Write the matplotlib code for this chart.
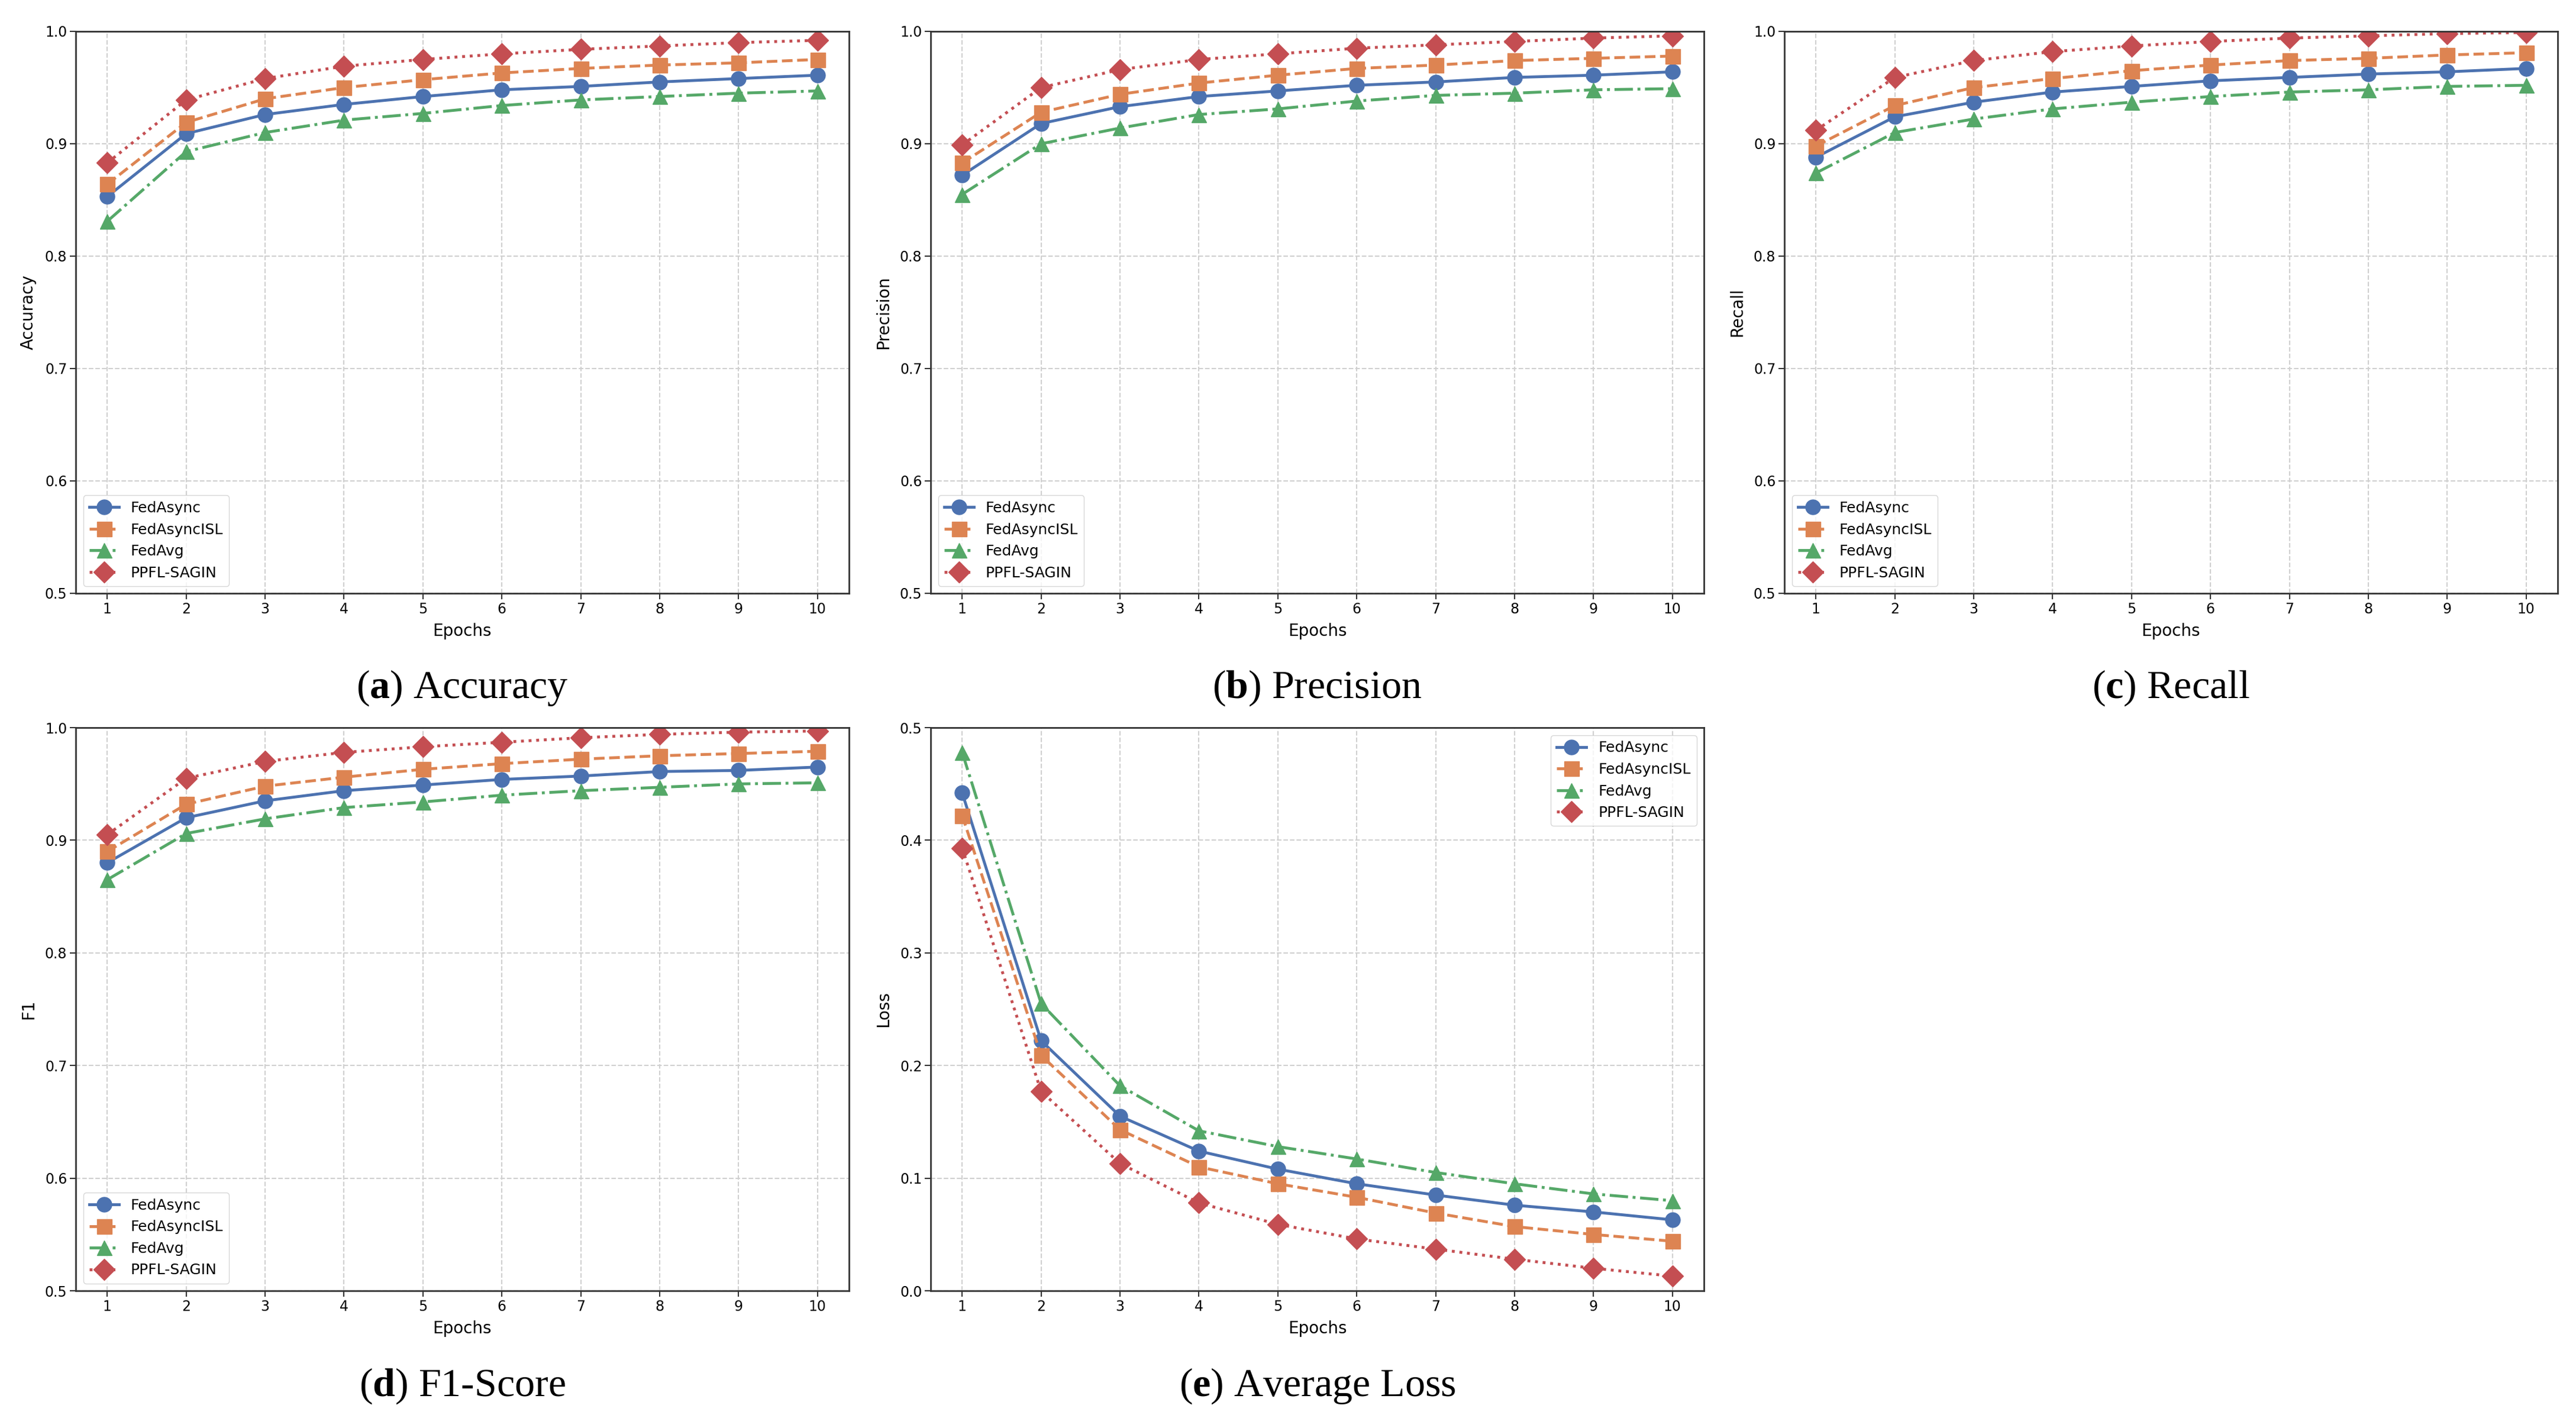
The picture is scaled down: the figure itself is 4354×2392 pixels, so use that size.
import numpy as np
import matplotlib
matplotlib.use("Agg")
from matplotlib import pyplot as plt

plt.rcParams['font.family'] = ['DejaVu Sans']
plt.rcParams['mathtext.fontset'] = 'custom'
plt.rcParams['mathtext.rm'] = 'Liberation Serif'
plt.rcParams['mathtext.bf'] = 'Liberation Serif:bold'

epochs = [1, 2, 3, 4, 5, 6, 7, 8, 9, 10]
methods = ["FedAsync", "FedAsyncISL", "FedAvg", "PPFL-SAGIN"]

acc_fedasync = [0.853, 0.909, 0.926, 0.935, 0.942, 0.948, 0.951, 0.955, 0.958, 0.961]
acc_isl      = [0.864, 0.919, 0.940, 0.950, 0.957, 0.963, 0.967, 0.970, 0.972, 0.975]
acc_fedavg   = [0.831, 0.893, 0.910, 0.921, 0.927, 0.934, 0.939, 0.942, 0.945, 0.947]
acc_ppfl     = [0.883, 0.939, 0.958, 0.969, 0.975, 0.980, 0.984, 0.987, 0.990, 0.992]

prec_fedasync = [0.872, 0.918, 0.933, 0.942, 0.947, 0.952, 0.955, 0.959, 0.961, 0.964]
prec_isl      = [0.883, 0.928, 0.944, 0.954, 0.961, 0.967, 0.970, 0.974, 0.976, 0.978]
prec_fedavg   = [0.855, 0.900, 0.914, 0.926, 0.931, 0.938, 0.943, 0.945, 0.948, 0.949]
prec_ppfl     = [0.899, 0.950, 0.966, 0.975, 0.980, 0.985, 0.988, 0.991, 0.994, 0.996]

rec_fedasync = [0.888, 0.924, 0.937, 0.946, 0.951, 0.956, 0.959, 0.962, 0.964, 0.967]
rec_isl      = [0.898, 0.934, 0.950, 0.958, 0.965, 0.970, 0.974, 0.976, 0.979, 0.981]
rec_fedavg   = [0.874, 0.910, 0.922, 0.931, 0.937, 0.942, 0.946, 0.948, 0.951, 0.952]
rec_ppfl     = [0.912, 0.959, 0.974, 0.982, 0.987, 0.991, 0.994, 0.996, 0.998, 0.999]

f1_fedasync = [0.880, 0.920, 0.935, 0.944, 0.949, 0.954, 0.957, 0.961, 0.962, 0.965]
f1_isl      = [0.890, 0.932, 0.948, 0.956, 0.963, 0.968, 0.972, 0.975, 0.977, 0.979]
f1_fedavg   = [0.865, 0.906, 0.919, 0.929, 0.934, 0.940, 0.944, 0.947, 0.950, 0.951]
f1_ppfl     = [0.905, 0.955, 0.970, 0.978, 0.983, 0.987, 0.991, 0.994, 0.996, 0.997]

loss_fedasync = [0.442, 0.222, 0.155, 0.124, 0.108, 0.095, 0.085, 0.076, 0.070, 0.063]
loss_isl      = [0.422, 0.209, 0.143, 0.110, 0.095, 0.083, 0.069, 0.057, 0.050, 0.044]
loss_fedavg   = [0.478, 0.255, 0.182, 0.142, 0.128, 0.117, 0.105, 0.095, 0.086, 0.080]
loss_ppfl     = [0.393, 0.177, 0.113, 0.078, 0.059, 0.046, 0.037, 0.028, 0.020, 0.013]

colors = ['#4C72B0', '#DD8452', '#55A868', '#C44E52']
styles = ['-', '--', '-.', ':']
markers = ['o', 's', '^', 'D']

panels = [
    ("Accuracy", [acc_fedasync, acc_isl, acc_fedavg, acc_ppfl], "a", "Accuracy"),
    ("Precision", [prec_fedasync, prec_isl, prec_fedavg, prec_ppfl], "b", "Precision"),
    ("Recall", [rec_fedasync, rec_isl, rec_fedavg, rec_ppfl], "c", "Recall"),
    ("F1", [f1_fedasync, f1_isl, f1_fedavg, f1_ppfl], "d", "F1-Score"),
    ("Loss", [loss_fedasync, loss_isl, loss_fedavg, loss_ppfl], "e", "Average Loss"),
]

W, H = 4354, 2392
fig = plt.figure(figsize=(W / 100, H / 100), dpi=100)

lefts = [128, 1573, 3016]
ax_w = 1307
rows = [(53, 1003), (1230, 2182)]
cap_y = [1163, 2343]

for i, (ylab, series, letter, caption) in enumerate(panels):
    r, c = divmod(i, 3)
    top, bot = rows[r]
    ax = fig.add_axes([lefts[c] / W, 1 - bot / H, ax_w / W, (bot - top) / H])
    for j, name in enumerate(methods):
        ax.plot(epochs, series[j], linestyle=styles[j], marker=markers[j],
                color=colors[j], label=name, linewidth=3.5, markersize=18)
    ax.set_xlim(0.6, 10.4)
    ax.set_xticks(epochs)
    if ylab == "Loss":
        ax.set_ylim(0.0, 0.5)
        ax.set_yticks([0.0, 0.1, 0.2, 0.3, 0.4, 0.5])
        ax.legend(loc="upper right", fontsize=18)
    else:
        ax.set_ylim(0.5, 1.0)
        ax.set_yticks([0.5, 0.6, 0.7, 0.8, 0.9, 1.0])
        ax.legend(loc="lower left", fontsize=18)
    ax.grid(True, linestyle='--', color='#d0d0d0', linewidth=1.5)
    ax.set_xlabel("Epochs", fontsize=20, labelpad=8)
    ax.set_ylabel(ylab, fontsize=20, labelpad=10)
    ax.tick_params(labelsize=17, length=7, width=1.5, color='#333333')
    for sp in ax.spines.values():
        sp.set_color('#333333')
        sp.set_linewidth(2)
    cx = (lefts[c] + ax_w / 2) / W
    cy = 1 - cap_y[r] / H
    fig.text(cx, cy, r"($\mathbf{%s}$) %s" % (letter, caption), ha='center', va='center',
             fontsize=49, family='Liberation Serif')

plt.savefig("out.png", dpi=100)
plt.close()
